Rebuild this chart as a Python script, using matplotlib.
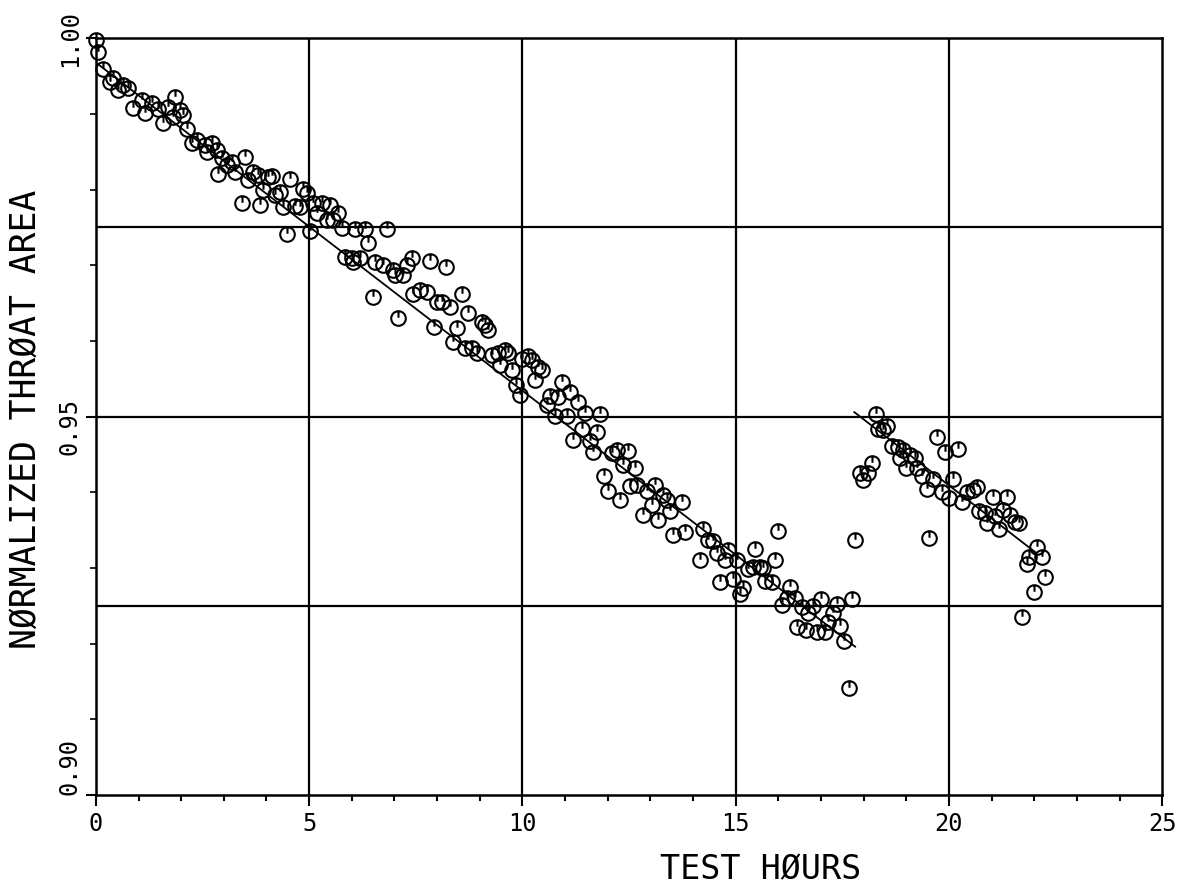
import numpy as np
import matplotlib
matplotlib.use('Agg')
import matplotlib.pyplot as plt
from matplotlib.path import Path
from matplotlib.ticker import MultipleLocator, FixedLocator
from matplotlib.transforms import ScaledTranslation

plt.rcParams['font.family'] = ['DejaVu Sans Mono', 'DejaVu Sans']

hours = [
    0.00, 0.05, 0.17, 0.33, 0.40, 0.52, 0.64, 0.75, 0.87, 1.08, 1.15, 1.32, 1.46, 1.69, 1.57,
    1.85, 1.81, 1.97, 2.04, 2.14, 2.25, 2.37, 2.56, 2.72, 2.60, 2.84, 2.96, 3.07, 3.19, 3.26,
    3.49, 2.86, 3.57, 3.68, 3.80, 4.04, 4.13, 3.92, 4.20, 4.32, 3.43, 3.85, 4.39, 4.48, 4.55,
    4.67, 4.79, 4.86, 4.95, 5.02, 5.09, 5.18, 5.30, 5.42, 5.49, 5.56, 5.68, 5.77, 6.07, 6.31,
    6.83, 6.38, 5.84, 6.01, 6.19, 6.03, 6.54, 6.73, 6.97, 7.01, 7.20, 7.29, 7.41, 7.83, 8.21,
    6.50, 7.08, 7.43, 7.60, 7.76, 8.00, 8.12, 8.30, 8.58, 8.72, 7.93, 8.47, 9.05, 9.12, 9.19,
    8.37, 8.65, 8.82, 8.94, 9.29, 9.43, 9.59, 9.66,
    9.47, 9.76, 9.99, 10.13, 10.23, 10.37, 10.46, 10.29, 9.85, 9.94, 10.93, 11.12, 10.65, 10.84,
    11.31, 10.58, 11.47, 11.82, 10.76, 11.05, 11.40, 11.75, 11.19, 11.59, 11.65, 12.10, 12.22,
    12.48, 12.36, 12.64, 11.92, 12.01, 12.29, 12.52, 12.69, 12.92, 13.11, 13.30, 13.39, 13.74,
    13.04, 13.46, 12.83, 13.18, 13.53, 13.81,
    14.23, 14.35, 14.47, 14.16, 14.56, 14.75, 14.82, 15.03, 15.45, 15.92, 15.29, 15.41, 15.57,
    15.64, 14.63, 14.94, 15.17, 15.10, 15.69, 15.85, 16.27, 16.20, 16.39, 16.09, 16.56, 16.81,
    16.70, 17.00, 17.38, 17.73, 17.28, 16.44, 16.65, 16.91, 17.09, 17.17, 17.45, 17.54, 17.66,
    15.99, 17.80,
    17.92, 18.10, 17.99, 18.20, 18.29, 18.34, 18.45, 18.55, 18.66, 18.80, 18.92, 18.85, 19.09,
    19.21, 18.99, 19.25, 19.37, 19.63, 19.49, 19.84, 19.72, 19.91, 20.22, 20.10, 20.00, 20.31,
    20.43, 20.57, 20.66, 21.03, 21.36, 21.27, 20.71, 20.85, 21.08, 21.43, 21.55, 21.64, 20.89,
    21.18, 19.54, 22.07, 21.88, 22.18, 21.83, 22.25, 22.00, 21.72,
]
area = [
    0.9998, 0.9982, 0.9959, 0.9942, 0.9948, 0.9932, 0.9938, 0.9934, 0.9908, 0.9918, 0.9901,
    0.9914, 0.9907, 0.9909, 0.9888, 0.9922, 0.9896, 0.9905, 0.9899, 0.9880, 0.9862, 0.9866,
    0.9859, 0.9862, 0.9850, 0.9852, 0.9842, 0.9833, 0.9837, 0.9823, 0.9843, 0.9821, 0.9813,
    0.9823, 0.9819, 0.9817, 0.9818, 0.9800, 0.9793, 0.9797, 0.9782, 0.9780, 0.9777, 0.9741,
    0.9814,
    0.9778, 0.9777, 0.9801, 0.9796, 0.9745, 0.9782, 0.9769, 0.9782, 0.9760, 0.9780, 0.9760,
    0.9769, 0.9749, 0.9748, 0.9748, 0.9748, 0.9729, 0.9711, 0.9710, 0.9710, 0.9704, 0.9704,
    0.9700, 0.9694, 0.9687, 0.9687, 0.9700, 0.9710, 0.9706, 0.9698, 0.9658, 0.9630, 0.9662,
    0.9668, 0.9665, 0.9652, 0.9652, 0.9645, 0.9662, 0.9637, 0.9618, 0.9617, 0.9625, 0.9621,
    0.9615, 0.9599, 0.9591, 0.9591, 0.9584, 0.9581, 0.9584, 0.9588, 0.9584,
    0.9568, 0.9562, 0.9576, 0.9580, 0.9575, 0.9565, 0.9562, 0.9548, 0.9542, 0.9529, 0.9546,
    0.9533, 0.9527, 0.9526, 0.9519, 0.9515, 0.9505, 0.9504, 0.9501, 0.9501, 0.9484, 0.9480,
    0.9469, 0.9468, 0.9453, 0.9452, 0.9456, 0.9455, 0.9436, 0.9432, 0.9422, 0.9402, 0.9390,
    0.9409, 0.9410, 0.9402, 0.9410, 0.9397, 0.9390, 0.9387, 0.9383, 0.9375, 0.9370, 0.9364,
    0.9344, 0.9348,
    0.9352, 0.9337, 0.9336, 0.9311, 0.9320, 0.9311, 0.9324, 0.9311, 0.9325, 0.9311, 0.9299,
    0.9301, 0.9301, 0.9300, 0.9282, 0.9286, 0.9274, 0.9265, 0.9283, 0.9281, 0.9275, 0.9260,
    0.9261, 0.9251, 0.9249, 0.9250, 0.9241, 0.9259, 0.9253, 0.9259, 0.9241, 0.9222, 0.9218,
    0.9216, 0.9216, 0.9228, 0.9224, 0.9204, 0.9141, 0.9349, 0.9337,
    0.9426, 0.9426, 0.9416, 0.9439, 0.9504, 0.9484, 0.9483, 0.9488, 0.9461, 0.9460, 0.9456,
    0.9445, 0.9449, 0.9446, 0.9432, 0.9432, 0.9422, 0.9417, 0.9404, 0.9400, 0.9473, 0.9453,
    0.9457, 0.9417, 0.9392, 0.9387, 0.9400, 0.9403, 0.9407, 0.9394, 0.9394, 0.9377, 0.9375,
    0.9373, 0.9369, 0.9370, 0.9361, 0.9360, 0.9360, 0.9352, 0.9339, 0.9328, 0.9315, 0.9314,
    0.9305, 0.9288, 0.9268, 0.9235,
]

# straight-line fits drawn through the two test segments
fit1_hours = [0.0, 17.80]
fit1_area = [0.9968, 0.9196]
fit2_hours = [17.78, 22.02]
fit2_area = [0.9506, 0.9321]

x_ticks = [0, 5, 10, 15, 20, 25]
x_ticklabels = ['0', '5', '10', '15', '20', '25']
y_ticks = [0.90, 0.95, 1.00]
y_ticklabels = ['0.90', '0.95', '1.00']
x_grid = [5, 10, 15, 20]
y_grid = [0.925, 0.95, 0.975]

# circle with a short stroke from the top down to the centre
circle = Path.unit_circle()
stroke = Path([(0, 1), (0, 0.1)], [Path.MOVETO, Path.LINETO])
marker = Path.make_compound_path(circle, stroke)

fig = plt.figure(figsize=(11.82, 8.85), dpi=100)
ax = fig.add_axes([0.0811, 0.1017, 0.9022, 0.8550])

for x in x_grid:
    ax.axvline(x, color='black', lw=1.6, zorder=1)
for y in y_grid:
    ax.axhline(y, color='black', lw=1.6, zorder=1)

ax.plot(fit1_hours, fit1_area, color='black', lw=1.3, zorder=2)
ax.plot(fit2_hours, fit2_area, color='black', lw=1.3, zorder=2)
ax.plot(hours, area, linestyle='none', marker=marker, ms=10.5, mfc='none',
        mec='black', mew=1.5, zorder=3, clip_on=False)

ax.set_xlim(0, 25)
ax.set_ylim(0.90, 1.00)

ax.xaxis.set_major_locator(FixedLocator(x_ticks))
ax.xaxis.set_minor_locator(MultipleLocator(1))
ax.set_xticklabels(x_ticklabels)
ax.yaxis.set_major_locator(FixedLocator(y_ticks))
ax.yaxis.set_minor_locator(MultipleLocator(0.01))
ax.set_yticklabels(y_ticklabels, rotation=90, va='center')

ax.tick_params(axis='x', which='major', direction='out', length=8, width=1.5, labelsize=17, pad=4)
ax.tick_params(axis='x', which='minor', direction='out', length=4, width=1.5)
ax.tick_params(axis='y', which='major', direction='out', length=7, width=1.5, labelsize=17, pad=3)
ax.tick_params(axis='y', which='minor', direction='out', length=4, width=1.2)

# the plotter put the lower two value labels a little off their ticks
label_shift = {'0.90': 0.28, '0.95': -0.10, '1.00': 0.0}
for lab in ax.get_yticklabels():
    dy = label_shift.get(lab.get_text(), 0.0)
    lab.set_transform(lab.get_transform() + ScaledTranslation(0, dy, fig.dpi_scale_trans))

for side in ['left', 'right', 'top', 'bottom']:
    ax.spines[side].set_linewidth(1.8)

ax.set_xlabel('TEST HØURS', fontsize=24)
ax.xaxis.set_label_coords(0.623, -0.077)
ax.set_ylabel('NØRMALIZED THRØAT AREA', fontsize=25)
ax.yaxis.set_label_coords(-0.05, 0.496)

fig.savefig('out.png', dpi=100)
